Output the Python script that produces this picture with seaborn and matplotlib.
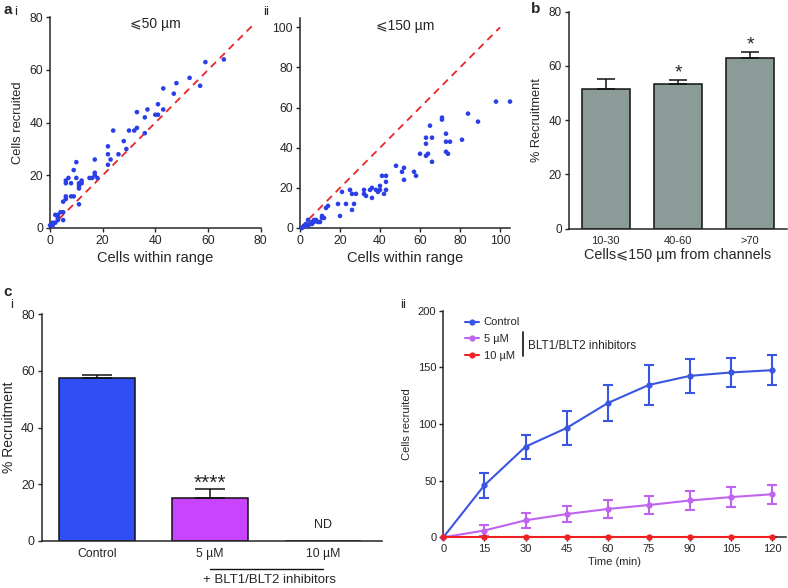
import numpy as np
import pandas as pd
import matplotlib
matplotlib.use('Agg')
import matplotlib.pyplot as plt
import seaborn as sns

# panel a i: cells within 50 um vs cells recruited
a1_within = [66, 59, 57, 53, 48, 47, 43, 43, 41, 41, 40, 37, 36, 36, 33, 33, 32, 30, 28, 29,
             26, 24, 23, 22, 22, 22, 18, 17, 17, 17, 16, 15, 12, 12, 11, 11, 11, 11, 10, 10,
             9, 9, 8, 7, 8, 6, 6, 6, 6, 5, 5, 5, 4, 3, 2, 3, 2, 1, 1, 0, 3, 3]
a1_recruited = [64, 63, 54, 57, 55, 51, 53, 45, 47, 43, 43, 45, 42, 36, 44, 38, 37, 37, 33, 30,
                28, 37, 26, 31, 28, 24, 19, 26, 21, 20, 19, 19, 17, 18, 17, 16, 15, 9, 25, 19,
                22, 12, 12, 19, 17, 18, 17, 12, 11, 10, 6, 3, 6, 5, 5, 4, 2, 2, 1, 1, 3, 3.5]

# panel a ii: cells within 150 um vs cells recruited
a2_within = [105, 98, 89, 84, 81, 75, 73, 73, 73, 74, 71, 71, 66, 66, 65, 63, 63, 63, 64, 60,
             58, 57, 52, 52, 51, 48, 43, 43, 43, 42, 41, 40, 40, 39, 38, 36, 36, 35, 33, 32,
             32, 28, 27, 26, 26, 25, 23, 21, 20, 19, 14, 13, 12, 11, 11, 10, 9, 8, 7, 7,
             6, 6, 5, 4, 4, 3, 2, 1]
a2_recruited = [63, 63, 53, 57, 44, 43, 43, 47, 38, 37, 55, 54, 45, 33, 51, 45, 42, 36, 37, 37,
                26, 28, 30, 24, 28, 31, 26, 23, 19, 17, 26, 21, 19, 18, 19, 20, 15, 19, 16, 19,
                17, 17, 12, 17, 9, 19, 12, 18, 6, 12, 11, 10, 5, 5, 6, 3, 3, 4, 3, 4,
                3, 2, 2, 4, 1, 2, 1, 0]

# panel b
b_groups = ['10-30', '40-60', '>70']
b_mean = [51.5, 53.5, 63.0]
b_sem = [3.8, 1.3, 2.0]
b_stars = ['', '*', '*']

# panel c i
c1_groups = ['Control', '5 \u00b5M', '10 \u00b5M']
c1_mean = [57.5, 15.0, 0.0]
c1_sem = [1.2, 3.2, 0.0]

# panel c ii
time_min = [0, 15, 30, 45, 60, 75, 90, 105, 120]
ctrl_mean = [0, 46, 80, 96.5, 118.5, 134.5, 142.5, 145.5, 147.5]
ctrl_sem = [0, 11, 10.5, 15, 16, 18, 15, 13, 13]
inh5_mean = [0, 6, 15, 20.5, 25, 28.5, 32.5, 35.5, 38]
inh5_sem = [0, 5, 6.5, 7, 8, 8, 8.5, 8.5, 8.5]
inh10_mean = [0, 0, 0, 0, 0, 0, 0, 0, 0]
inh10_sem = [0, 0, 0, 0, 0, 0, 0, 0, 0]

sns.set_theme(style='ticks')
plt.rcParams['font.family'] = ['Liberation Sans', 'DejaVu Sans']
plt.rcParams['axes.linewidth'] = 1.1
plt.rcParams['xtick.major.width'] = 1.0
plt.rcParams['ytick.major.width'] = 1.0
plt.rcParams['xtick.major.size'] = 3
plt.rcParams['ytick.major.size'] = 3
plt.rcParams['xtick.major.pad'] = 2
plt.rcParams['ytick.major.pad'] = 2

W, H = 788, 588
fig = plt.figure(figsize=(W / 100, H / 100), dpi=100, facecolor='white')


def px_axes(l, t, r, b):
    return fig.add_axes([l / W, 1 - b / H, (r - l) / W, (b - t) / H])


def clean(ax):
    sns.despine(ax=ax)
    ax.set_facecolor('white')


scatter_blue = '#2b3fe6'
dash_red = '#e8262a'

# ---- a i ----
ax = px_axes(50, 17.3, 260.7, 228)
sns.scatterplot(x=a1_within, y=a1_recruited, ax=ax, color=scatter_blue, s=11,
                edgecolor='none', clip_on=False, zorder=3)
ax.plot([0, 77], [0, 77], ls=(0, (4, 3)), color=dash_red, lw=1.3, zorder=2)
ax.set_xlim(0, 80)
ax.set_ylim(0, 80)
ax.set_xticks(range(0, 81, 20))
ax.set_yticks(range(0, 81, 20))
ax.tick_params(labelsize=8.8)
ax.set_xlabel('Cells within range', fontsize=10.5, labelpad=3)
ax.set_ylabel('Cells recruited', fontsize=9.3, labelpad=4)
ax.text(0.5, 0.97, '\u2a7d50 \u00b5m', transform=ax.transAxes, ha='center', va='center',
        fontsize=10)
clean(ax)

# ---- a ii ----
ax = px_axes(300, 18.3, 510, 228)
sns.scatterplot(x=a2_within, y=a2_recruited, ax=ax, color=scatter_blue, s=11,
                edgecolor='none', clip_on=False, zorder=3)
ax.plot([0, 100], [0, 100], ls=(0, (4, 3)), color=dash_red, lw=1.3, zorder=2)
ax.set_xlim(0, 105)
ax.set_ylim(0, 104.5)
ax.set_xticks(range(0, 101, 20))
ax.set_yticks(range(0, 101, 20))
ax.tick_params(labelsize=8.8)
ax.set_xlabel('Cells within range', fontsize=10.5, labelpad=3)
ax.text(0.5, 0.965, '\u2a7d150 \u00b5m', transform=ax.transAxes, ha='center', va='center',
        fontsize=10)
clean(ax)

# ---- b ----
ax = px_axes(569, 11.7, 787, 228.7)
dfb = pd.DataFrame({'group': b_groups, 'mean': b_mean})
sns.barplot(data=dfb, x='group', y='mean', ax=ax, color='#8a9b98', width=0.67,
            edgecolor='#111111', linewidth=1.1, errorbar=None, saturation=1)
ax.errorbar(range(len(b_groups)), b_mean, yerr=[np.zeros(3), b_sem], fmt='none',
            ecolor='#111111', elinewidth=1.1, capsize=6.5, capthick=1.1)
for i, s in enumerate(b_stars):
    if s:
        ax.text(i, b_mean[i] + b_sem[i] - 0.5, s, ha='center', va='bottom', fontsize=14)
ax.set_xlim(-0.51, 2.51)
ax.set_ylim(0, 80)
ax.set_yticks(range(0, 81, 20))
ax.tick_params(labelsize=8.5)
ax.tick_params(axis='x', length=0, pad=5, labelsize=8)
ax.set_xlabel('Cells\u2a7d150 \u00b5m from channels', fontsize=10.4, labelpad=2)
ax.set_ylabel('% Recruitment', fontsize=9.2, labelpad=4)
clean(ax)

# ---- c i ----
ax = px_axes(41.7, 314.3, 381.7, 540.7)
dfc = pd.DataFrame({'group': c1_groups, 'mean': c1_mean})
sns.barplot(data=dfc, x='group', y='mean', ax=ax, hue='group',
            palette=['#2f4ff5', '#c844ff', '#ffffff'], width=0.67,
            edgecolor='#111111', linewidth=1.1, errorbar=None, saturation=1, legend=False)
ax.errorbar([0, 1], c1_mean[:2], yerr=[np.zeros(2), c1_sem[:2]], fmt='none',
            ecolor='#111111', elinewidth=1.1, capsize=11, capthick=1.1)
ax.text(1, c1_mean[1] + c1_sem[1] - 1.2, '****', ha='center', va='bottom', fontsize=15)
ax.text(2, 5.5, 'ND', ha='center', va='center', fontsize=9)
ax.set_xlim(-0.49, 2.52)
ax.set_ylim(0, 80)
ax.set_yticks(range(0, 81, 20))
ax.tick_params(labelsize=8.8)
ax.tick_params(axis='x', length=0, pad=5)
ax.set_xlabel('')
ax.set_ylabel('% Recruitment', fontsize=10, labelpad=4)
ax.plot([1.0, 2.0], [-0.125, -0.125], transform=ax.get_xaxis_transform(),
        color='#111111', lw=1.0, clip_on=False)
ax.text(1.53, -0.175, '+ BLT1/BLT2 inhibitors', transform=ax.get_xaxis_transform(),
        ha='center', va='center', fontsize=9.5)
clean(ax)

# ---- c ii ----
ax = px_axes(443.3, 310.7, 786, 537.3)
series = [('Control', ctrl_mean, ctrl_sem, '#3a55e2'),
          ('5 \u00b5M', inh5_mean, inh5_sem, '#c064f0'),
          ('10 \u00b5M', inh10_mean, inh10_sem, '#ee2222')]
for name, m, e, col in series:
    sns.lineplot(x=time_min, y=m, ax=ax, color=col, lw=1.5, marker='o', markersize=4.5,
                 markeredgewidth=0, label=name, clip_on=False, zorder=3)
    ax.errorbar(time_min, m, yerr=e, fmt='none', ecolor=col, elinewidth=1.5,
                capsize=3.5, capthick=1.5, zorder=2)
ax.set_xlim(0, 125)
ax.set_ylim(0, 200)
ax.set_xticks(time_min)
ax.set_yticks(range(0, 201, 50))
ax.tick_params(labelsize=8)
ax.set_xlabel('Time (min)', fontsize=8, labelpad=2)
ax.set_ylabel('Cells recruited', fontsize=8, labelpad=4)
ax.legend(loc='upper left', bbox_to_anchor=(0.05, 0.99), frameon=False, fontsize=8,
          handlelength=1.3, handletextpad=0.4, labelspacing=0.6, borderaxespad=0)
ax.plot([0.232, 0.232], [0.80, 0.905], transform=ax.transAxes, color='#111111', lw=1.2,
        clip_on=False)
ax.text(0.246, 0.845, 'BLT1/BLT2 inhibitors', transform=ax.transAxes, ha='left',
        va='center', fontsize=8.5)
clean(ax)

# panel letters
fig.text(3 / W, 1 - 10 / H, 'a', fontsize=11, fontweight='bold', ha='left', va='center')
fig.text(14 / W, 1 - 12 / H, 'i', fontsize=9.5, ha='left', va='center')
fig.text(263 / W, 1 - 12 / H, 'ii', fontsize=9.5, ha='left', va='center')
fig.text(531 / W, 1 - 9 / H, 'b', fontsize=11, fontweight='bold', ha='left', va='center')
fig.text(3 / W, 1 - 292 / H, 'c', fontsize=11, fontweight='bold', ha='left', va='center')
fig.text(10 / W, 1 - 305 / H, 'i', fontsize=9.5, ha='left', va='center')
fig.text(400 / W, 1 - 305 / H, 'ii', fontsize=9.5, ha='left', va='center')

fig.savefig('out.png', dpi=100, facecolor='white')
